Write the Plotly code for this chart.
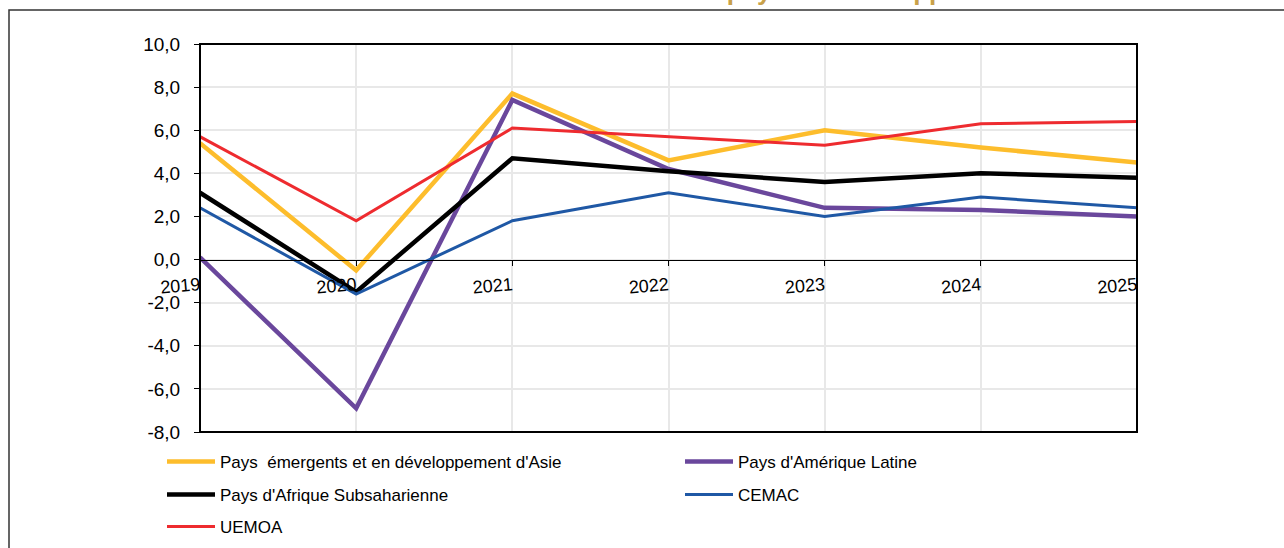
import plotly.graph_objects as go

years = [2019, 2020, 2021, 2022, 2023, 2024, 2025]
year_labels = ["2019", "2020", "2021", "2022", "2023", "2024", "2025"]
y_ticks = [-8, -6, -4, -2, 0, 2, 4, 6, 8, 10]
y_tick_labels = ["-8,0", "-6,0", "-4,0", "-2,0", "0,0", "2,0", "4,0", "6,0", "8,0", "10,0"]

asie = [5.4, -0.5, 7.7, 4.6, 6.0, 5.2, 4.5]
amlat = [0.1, -6.9, 7.4, 4.2, 2.4, 2.3, 2.0]
afss = [3.1, -1.5, 4.7, 4.1, 3.6, 4.0, 3.8]
cemac = [2.4, -1.6, 1.8, 3.1, 2.0, 2.9, 2.4]
uemoa = [5.7, 1.8, 6.1, 5.7, 5.3, 6.3, 6.4]

names = ["Pays  émergents et en développement d'Asie", "Pays d'Amérique Latine",
         "Pays d'Afrique Subsaharienne", "CEMAC", "UEMOA"]
series = [asie, amlat, afss, cemac, uemoa]
colors = ["#FDBD2C", "#6A479C", "#000000", "#1F58A5", "#EE2B2F"]
widths = [4.5, 4.5, 4.5, 3, 3]
legends = ["legend", "legend", "legend2", "legend2", "legend3"]

W, H = 1284, 548
L, R, T, B = 200, 147, 44, 116
pw, ph = W - L - R, H - T - B

def px_x(p):
    return (p - L) / pw

def px_y(p):
    return (H - B - p) / ph

fig = go.Figure()
for n, s, c, w, lg in zip(names, series, colors, widths, legends):
    fig.add_trace(go.Scatter(x=years, y=s, name=n, mode="lines",
                             line=dict(color=c, width=w), legend=lg))

font = "Liberation Sans, Arial, sans-serif"
leg_common = dict(orientation="h", entrywidth=455, entrywidthmode="pixels",
                  font=dict(family=font, size=17, color="#000"),
                  bgcolor="rgba(0,0,0,0)", itemwidth=48,
                  xanchor="left", yanchor="middle")

zero_pos = (0 - (-8)) / 18

fig.update_layout(
    width=W, height=H,
    margin=dict(l=L, r=R, t=T, b=B, autoexpand=False),
    paper_bgcolor="white", plot_bgcolor="white",
    separators=",.",
    font=dict(family=font, color="#000"),
    legend=dict(x=px_x(162), y=px_y(462), **leg_common),
    legend2=dict(x=px_x(162), y=px_y(495), **leg_common),
    legend3=dict(x=px_x(162), y=px_y(527), **leg_common),
    xaxis=dict(range=[2019, 2025], tickmode="array", tickvals=years, ticktext=year_labels,
               showgrid=True, gridcolor="#E8E8E8", gridwidth=1.5,
               anchor="free", position=zero_pos,
               showline=True, linecolor="#000", linewidth=1,
               ticks="outside", ticklen=5, tickcolor="#000",
               tickangle=-5, ticklabelstandoff=3,
               tickfont=dict(size=18, family=font, color="#000"), zeroline=False),
    yaxis=dict(range=[-8, 10], tickmode="array", tickvals=y_ticks, ticktext=y_tick_labels,
               showgrid=True, gridcolor="#E8E8E8", gridwidth=1.5,
               zeroline=False, showline=False,
               ticks="outside", ticklen=5, tickcolor="#000", ticklabelstandoff=10,
               tickfont=dict(size=19, family=font, color="#000")),
    shapes=[
        dict(type="rect", xref="paper", yref="paper", x0=0, x1=1, y0=0, y1=1,
             line=dict(color="#000", width=2), layer="above"),
        dict(type="rect", xref="paper", yref="paper", x0=px_x(9), x1=px_x(1300),
             y0=px_y(10), y1=px_y(600), line=dict(color="#333", width=1.5), layer="below"),
    ],
    annotations=[
        dict(text="<b>Croissance du PIB réel dans les pays en développement</b>",
             xref="paper", yref="paper", x=px_x(1024), y=px_y(-9),
             xanchor="right", yanchor="middle", showarrow=False,
             font=dict(family=font, size=26, color="#C9A14A")),
    ],
)

fig.write_html("out.html", config={"displayModeBar": False},
               post_script="document.body.style.margin='0';document.body.style.overflow='hidden';")
